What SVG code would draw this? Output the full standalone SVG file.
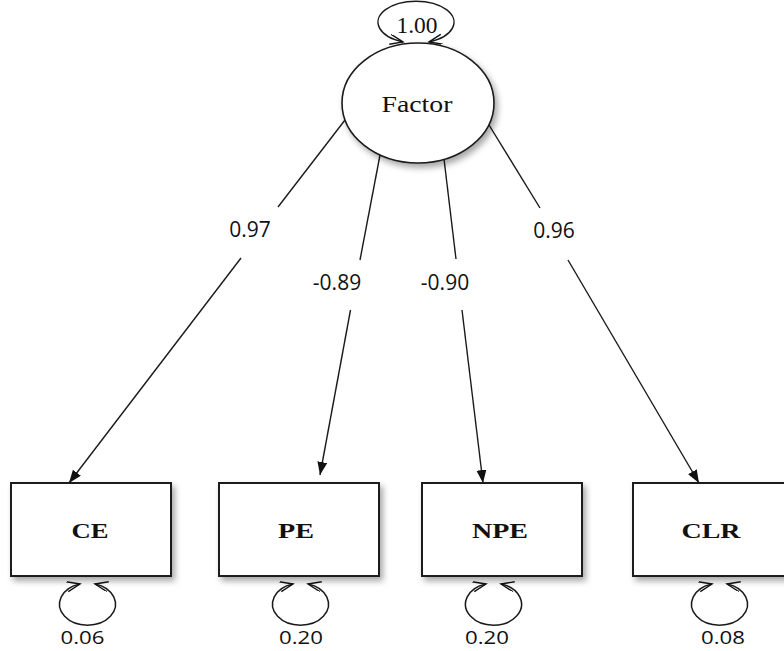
<svg xmlns="http://www.w3.org/2000/svg" width="784" height="651" viewBox="0 0 784 651">
<defs>
<style>
.box{fill:#fff;stroke:#1a1a1a;stroke-width:2}
.lat{fill:#fff;stroke:#1a1a1a;stroke-width:1.6}
.edge{fill:none;stroke:#1a1a1a;stroke-width:1.4}
.loop{fill:none;stroke:#1a1a1a;stroke-width:1.5}
.lbl{font-family:"Liberation Serif","Times New Roman",serif;font-weight:bold;font-size:22px;fill:#111}
.fac{font-family:"Liberation Serif","Times New Roman",serif;font-size:23px;fill:#111}
.num{font-family:"Open Sans","DejaVu Sans",sans-serif;font-size:21px;fill:#111}
.var{font-family:"Open Sans","DejaVu Sans",sans-serif;font-size:19px;fill:#111}
</style>
<filter id="sh" x="-20%" y="-20%" width="150%" height="150%">
<feDropShadow dx="3" dy="4" stdDeviation="3" flood-color="#000" flood-opacity="0.35"/>
</filter>
<marker id="arr" markerUnits="userSpaceOnUse" markerWidth="14" markerHeight="12" refX="13" refY="5" orient="auto">
<path d="M0,0 L13,5 L0,10 z" fill="#111"/>
</marker>
<marker id="oarr" markerUnits="userSpaceOnUse" markerWidth="16" markerHeight="14" refX="13" refY="5" orient="auto-start-reverse">
<path d="M0,0 L13,5 L0,10" fill="none" stroke="#111" stroke-width="1.4"/>
</marker>
</defs>

<g id="connectors">
<path class="edge" d="M345,120 L278,207"/>
<path class="edge" d="M241,258 L69,483" marker-end="url(#arr)"/>
<path class="edge" d="M380,155 L360,260"/>
<path class="edge" d="M350.5,310 L320,475" marker-end="url(#arr)"/>
<path class="edge" d="M444,159 L456,259"/>
<path class="edge" d="M462,310 L483,483" marker-end="url(#arr)"/>
<path class="edge" d="M489,125 L540,208"/>
<path class="edge" d="M568,260 L699,483" marker-end="url(#arr)"/>
<text class="num" x="250" y="237" text-anchor="middle">0.97</text>
<text class="num" x="337" y="290" text-anchor="middle">-0.89</text>
<text class="num" x="445" y="290" text-anchor="middle">-0.90</text>
<text class="num" x="554" y="238" text-anchor="middle">0.96</text>
</g>

<g id="factor">
<ellipse class="lat" cx="418" cy="103" rx="76" ry="60" filter="url(#sh)"/>
<text class="fac" x="417" y="112" text-anchor="middle" textLength="71" lengthAdjust="spacingAndGlyphs">Factor</text>
<path class="loop" d="M403,41.9 A38,21 0 1 1 429,41.9" marker-start="url(#oarr)" marker-end="url(#oarr)"/>
<text class="fac" x="417" y="33" text-anchor="middle" font-size="20" textLength="41" lengthAdjust="spacingAndGlyphs">1.00</text>
</g>

<g id="CE">
<rect class="box" x="11" y="483" width="160" height="93" filter="url(#sh)"/>
<text class="lbl" x="90" y="538" text-anchor="middle" textLength="37" lengthAdjust="spacingAndGlyphs">CE</text>
<path class="loop" d="M80,584 A28,21 0 1 0 95,584" marker-start="url(#oarr)" marker-end="url(#oarr)"/>
<text class="var" x="82.5" y="644" text-anchor="middle" textLength="44" lengthAdjust="spacingAndGlyphs">0.06</text>
</g>

<g id="PE">
<rect class="box" x="219" y="483" width="160" height="93" filter="url(#sh)"/>
<text class="lbl" x="296" y="538" text-anchor="middle" textLength="36" lengthAdjust="spacingAndGlyphs">PE</text>
<path class="loop" d="M293,584 A28,21 0 1 0 308,584" marker-start="url(#oarr)" marker-end="url(#oarr)"/>
<text class="var" x="301" y="644" text-anchor="middle" textLength="44" lengthAdjust="spacingAndGlyphs">0.20</text>
</g>

<g id="NPE">
<rect class="box" x="422" y="483" width="160" height="93" filter="url(#sh)"/>
<text class="lbl" x="500" y="538" text-anchor="middle" textLength="56" lengthAdjust="spacingAndGlyphs">NPE</text>
<path class="loop" d="M486,584 A28,21 0 1 0 501,584" marker-start="url(#oarr)" marker-end="url(#oarr)"/>
<text class="var" x="487" y="644" text-anchor="middle" textLength="44" lengthAdjust="spacingAndGlyphs">0.20</text>
</g>

<g id="CLR">
<rect class="box" x="633" y="483" width="160" height="93" filter="url(#sh)"/>
<text class="lbl" x="711" y="538" text-anchor="middle" textLength="59" lengthAdjust="spacingAndGlyphs">CLR</text>
<path class="loop" d="M712,584 A28,21 0 1 0 727,584" marker-start="url(#oarr)" marker-end="url(#oarr)"/>
<text class="var" x="723" y="644" text-anchor="middle" textLength="44" lengthAdjust="spacingAndGlyphs">0.08</text>
</g>
</svg>
